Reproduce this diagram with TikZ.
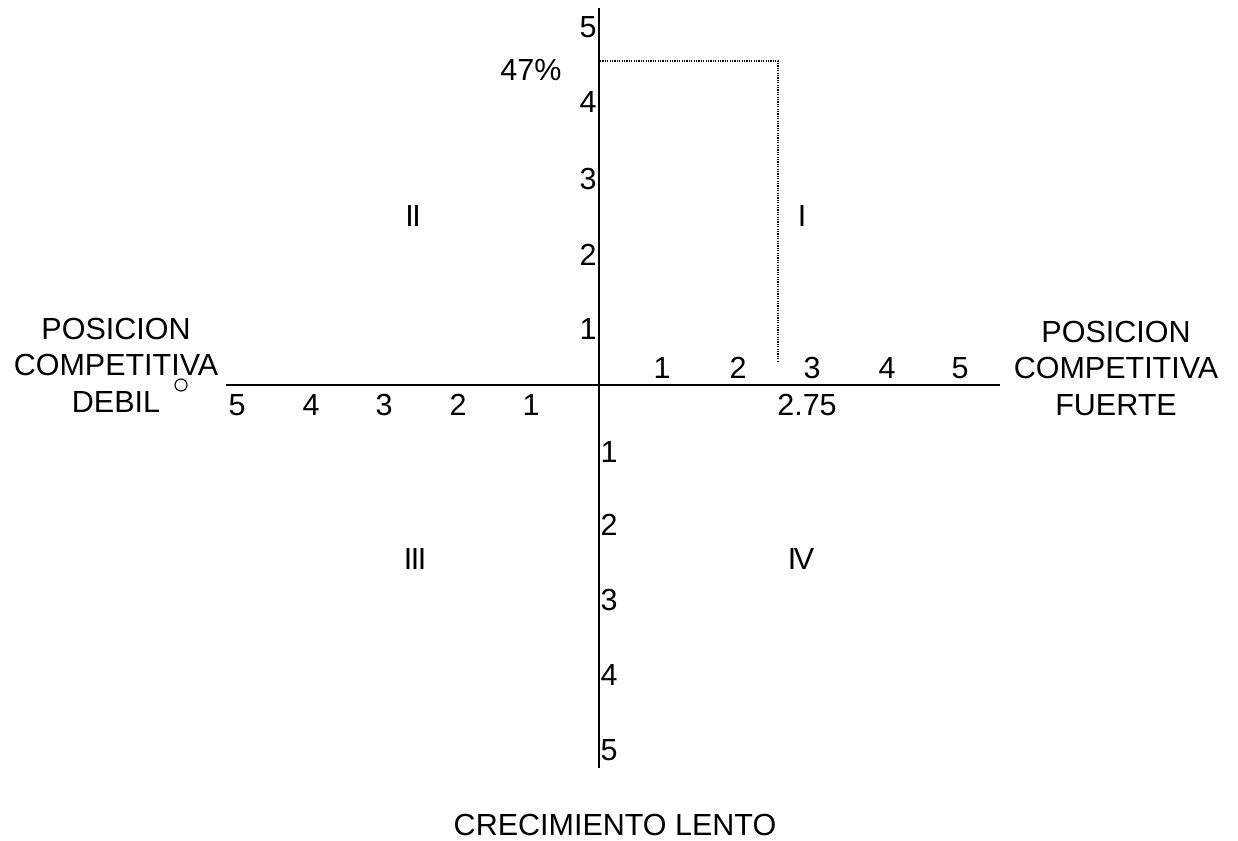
\documentclass[tikz,border=0pt]{standalone}
\usepackage{fontspec}
\setmainfont{Liberation Sans}
\begin{document}
\begin{tikzpicture}[x=1pt,y=-1pt,
  lbl/.style={font=\fontsize{30.5}{36.5}\selectfont, inner sep=0pt, align=center},
  axis/.style={line width=1.8pt, black},
  guide/.style={line width=1.3pt, dash pattern=on 1.2pt off 1.2pt, black}]
\useasboundingbox (0,0) rectangle (1238,840);
% axes
\coordinate (vtop) at (599,8);
\coordinate (vbot) at (599,768);
\coordinate (hl) at (226,385);
\coordinate (hr) at (1000,385);
\draw[axis] (vtop) -- (vbot);
\draw[axis] (hl) -- (hr);
% dotted guide
\coordinate (g1) at (600,61);
\coordinate (g2) at (778,61);
\coordinate (g3) at (778,363);
\draw[guide] (g1) -- (g2) -- (g3);
% upper vertical labels
\node[lbl] (u5) at (588,27) {5};
\node[lbl] (u4) at (588,102) {4};
\node[lbl] (u3) at (588,179) {3};
\node[lbl] (u2) at (588,255) {2};
\node[lbl] (u1) at (588,329) {1};
% lower vertical labels
\node[lbl] (d1) at (609,452) {1};
\node[lbl] (d2) at (609,525) {2};
\node[lbl] (d3) at (609,600) {3};
\node[lbl] (d4) at (609,675) {4};
\node[lbl] (d5) at (609,750) {5};
% horizontal positive
\node[lbl] (r1) at (662,368) {1};
\node[lbl] (r2) at (738,368) {2};
\node[lbl] (r3) at (812,368) {3};
\node[lbl] (r4) at (887,368) {4};
\node[lbl] (r5) at (960,368) {5};
% horizontal negative
\node[lbl] (l5) at (237,405) {5};
\node[lbl] (l4) at (311,405) {4};
\node[lbl] (l3) at (384,405) {3};
\node[lbl] (l2) at (458,405) {2};
\node[lbl] (l1) at (531,405) {1};
% values
\node[lbl] (v275) at (807,405) {2.75};
\node[lbl] (v47) at (531,70) {47\%};
% quadrants
\node[lbl] (q2) at (413,216) {I\kern-1.5pt I};
\node[lbl] (q1) at (802,216) {I};
\node[lbl] (q3) at (415,559) {I\kern-1.5pt I\kern-1.5pt I};
\node[lbl] (q4) at (801,559) {I\kern-2.5pt V};
% side labels
\node[lbl] (left) at (116,365) {POSICION\\COMPETITIVA\\DEBIL};
\node[lbl] (right) at (1116,368) {POSICION\\COMPETITIVA\\FUERTE};
\node[lbl] (bottom) at (615,825) {CRECIMIENTO LENTO};
% small circle
\node[draw, circle, line width=1.1pt, minimum size=12pt, inner sep=0pt] (c) at (181,385) {};
\end{tikzpicture}
\end{document}
